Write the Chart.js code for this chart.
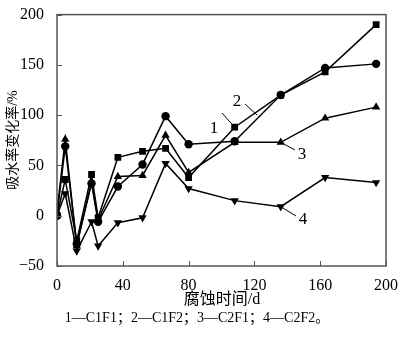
<!DOCTYPE html>
<html>
<head>
<meta charset="utf-8">
<script src="https://cdn.jsdelivr.net/npm/chart.js@4"></script>
<style>
  html, body { margin: 0; padding: 0; background: #fff; }
  #wrap { width: 400px; height: 337px; }
</style>
</head>
<body>
<div id="wrap"><canvas id="chart" width="400" height="337"></canvas></div>
<script>
// corrosion time (d)
const days = [0, 5, 12, 21, 25, 37, 52, 66, 80, 108, 136, 163, 194];
// water absorption change rate (%)
const c1f1 = [0, 36, -25, 41, -2, 58, 64, 67, 38, 88, 120, 143, 190];
const c1f2 = [0, 69, -28, 32, -6, 29, 51, 99, 71, 74, 120, 147, 151];
const c2f1 = [4, 76, -30, 34, -4, 39, 40, 80, 43, 73, 73, 97, 108];
const c2f2 = [0, 22, -35, -6, -30, -7, -2, 52, 27, 15, 9, 38, 33];
const xTicks = [0, 40, 80, 120, 160, 200];
const yTicks = [-50, 0, 50, 100, 150, 200];

const seriesNames = ['1', '2', '3', '4'];
const caption = '1—C1F1；2—C1F2；3—C2F1；4—C2F2。';

const serif = '"Liberation Serif", "Times New Roman", "Noto Sans CJK SC", serif';

function pts(ys) {
    return days.map((d, i) => ({ x: d, y: ys[i] }));
}

function ds(label, ys, style, rot) {
    return {
        label: label,
        data: pts(ys),
        showLine: true,
        borderColor: '#000',
        backgroundColor: '#000',
        borderWidth: 1.5,
        pointStyle: style,
        pointRotation: rot || 0,
        pointRadius: style === 'circle' ? 4.2 : 4.8,
        pointBorderWidth: 0,
        tension: 0
    };
}

// frame, inward ticks, titles and labels
const decor = {
    id: 'decor',
    afterDraw(chart) {
        const ctx = chart.ctx;
        const a = chart.chartArea;
        const xs = chart.scales.x, ys = chart.scales.y;
        ctx.save();
        ctx.strokeStyle = '#555';
        ctx.lineWidth = 1.5;
        ctx.strokeRect(a.left, a.top, a.right - a.left, a.bottom - a.top);
        ctx.lineWidth = 1;
        xTicks.forEach(v => {
            const px = Math.round(xs.getPixelForValue(v)) + 0.5;
            ctx.beginPath(); ctx.moveTo(px, a.bottom); ctx.lineTo(px, a.bottom - 5); ctx.stroke();
        });
        yTicks.forEach(v => {
            const py = Math.round(ys.getPixelForValue(v)) + 0.5;
            ctx.beginPath(); ctx.moveTo(a.left, py); ctx.lineTo(a.left + 5, py); ctx.stroke();
        });

        ctx.fillStyle = '#000';
        // y title
        ctx.save();
        ctx.translate(13, 140);
        ctx.rotate(-Math.PI / 2);
        ctx.font = '14px ' + serif;
        ctx.textAlign = 'center';
        ctx.textBaseline = 'middle';
        ctx.fillText('吸水率变化率/%', 0, 0);
        ctx.restore();

        // x title + caption
        ctx.font = '16px ' + serif;
        ctx.textAlign = 'center';
        ctx.textBaseline = 'middle';
        ctx.fillText('腐蚀时间/d', 222, 300);
        ctx.font = '14px ' + serif;
        ctx.fillText(caption, 197, 318);

        // series number labels with leader lines
        const P = (x, y) => [xs.getPixelForValue(x), ys.getPixelForValue(y)];
        const leaders = [
            { n: seriesNames[0], from: P(days[9], c1f1[9]), to: [222, 113], tx: 214, ty: 129 },
            { n: seriesNames[1], from: [257, 115], to: [245, 104], tx: 237, ty: 102 },
            { n: seriesNames[2], from: P(days[10], c2f1[10]), to: [295, 150], tx: 302, ty: 155 },
            { n: seriesNames[3], from: P(days[10], c2f2[10]), to: [296, 216], tx: 303, ty: 220 }
        ];
        ctx.strokeStyle = '#000';
        ctx.lineWidth = 1;
        ctx.font = '17px ' + serif;
        leaders.forEach(l => {
            ctx.beginPath(); ctx.moveTo(l.from[0], l.from[1]); ctx.lineTo(l.to[0], l.to[1]); ctx.stroke();
            ctx.fillText(l.n, l.tx, l.ty);
        });
        ctx.restore();
    }
};

new Chart(document.getElementById('chart').getContext('2d'), {
    type: 'scatter',
    data: {
        datasets: [
            ds('1', c1f1, 'rect'),
            ds('2', c1f2, 'circle'),
            ds('3', c2f1, 'triangle'),
            ds('4', c2f2, 'triangle', 180)
        ]
    },
    options: {
        responsive: false,
        animation: false,
        layout: { padding: { left: 0, right: 13, top: 5, bottom: 0 } },
        plugins: { legend: { display: false }, tooltip: { enabled: false } },
        scales: {
            x: {
                type: 'linear', min: 0, max: 200,
                afterBuildTicks: s => { s.ticks = xTicks.map(v => ({ value: v })); },
                afterFit: s => { s.height = 71; },
                grid: { display: false },
                border: { display: false },
                ticks: { color: '#000', font: { family: serif, size: 16 }, padding: 2, maxRotation: 0 }
            },
            y: {
                min: -50, max: 200,
                afterBuildTicks: s => { s.ticks = yTicks.map(v => ({ value: v })); },
                afterFit: s => { s.width = 57; },
                grid: { display: false },
                border: { display: false },
                ticks: { color: '#000', font: { family: serif, size: 16 }, padding: 5,
                    callback: v => v < 0 ? '−' + Math.abs(v) : v }
            }
        }
    },
    plugins: [decor]
});
</script>
</body>
</html>
